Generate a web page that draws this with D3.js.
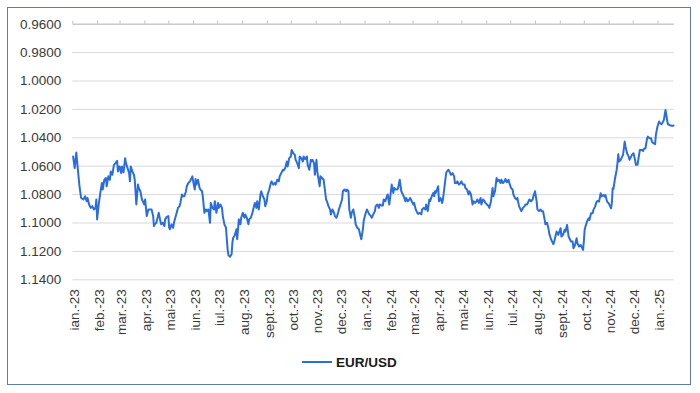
<!DOCTYPE html>
<html>
<head>
<meta charset="utf-8">
<script src="https://cdn.jsdelivr.net/npm/d3@7"></script>
<style>
  html, body { margin: 0; padding: 0; background: #fff; }
  svg { display: block; font-family: "Liberation Sans", Arial, sans-serif; }
</style>
</head>
<body>
<svg id="chart" width="700" height="393"></svg>
<script>
// ---- DATA ----
const seriesName = "EUR/USD";

const yTicks = [0.96, 0.98, 1.00, 1.02, 1.04, 1.06, 1.08, 1.10, 1.12, 1.14];

const monthTicks = ["23-01-01","23-02-01","23-03-01","23-04-01","23-05-01","23-06-01","23-07-01","23-08-01","23-09-01","23-10-01","23-11-01","23-12-01",
  "24-01-01","24-02-01","24-03-01","24-04-01","24-05-01","24-06-01","24-07-01","24-08-01","24-09-01","24-10-01","24-11-01","24-12-01","25-01-01"];
const monthLabels = ["ian.-23","feb.-23","mar.-23","apr.-23","mai-23","iun.-23","iul.-23","aug.-23","sept.-23","oct.-23","nov.-23","dec.-23",
  "ian.-24","feb.-24","mar.-24","apr.-24","mai-24","iun.-24","iul.-24","aug.-24","sept.-24","oct.-24","nov.-24","dec.-24","ian.-25"];

const dates = [
"23-01-02","23-01-04","23-01-06","23-01-08","23-01-10","23-01-12","23-01-15","23-01-17","23-01-19","23-01-20","23-01-22","23-01-24","23-01-26","23-01-28","23-01-30","23-01-31",
"23-02-01","23-02-03","23-02-05","23-02-07","23-02-08","23-02-10","23-02-12","23-02-13","23-02-15","23-02-17","23-02-18","23-02-20","23-02-22","23-02-24","23-02-26","23-02-27",
"23-03-01","23-03-03","23-03-04","23-03-06","23-03-08","23-03-09","23-03-11","23-03-13","23-03-14","23-03-15","23-03-17","23-03-19","23-03-20","23-03-22","23-03-24","23-03-25","23-03-27","23-03-29","23-03-30",
"23-04-01","23-04-02","23-04-04","23-04-06","23-04-08","23-04-10","23-04-12","23-04-13","23-04-14","23-04-16","23-04-17","23-04-19","23-04-21","23-04-22","23-04-24","23-04-26","23-04-27","23-04-29",
"23-05-01","23-05-02","23-05-03","23-05-05","23-05-07","23-05-08","23-05-10","23-05-12","23-05-13","23-05-15","23-05-16","23-05-18","23-05-19","23-05-21","23-05-23","23-05-24","23-05-26","23-05-28","23-05-29","23-05-31",
"23-06-01","23-06-03","23-06-04","23-06-05","23-06-07","23-06-09","23-06-10","23-06-12","23-06-13","23-06-14","23-06-15","23-06-17","23-06-18","23-06-20","23-06-22","23-06-23","23-06-25","23-06-27","23-06-28","23-06-30",
"23-07-02","23-07-03","23-07-05","23-07-07","23-07-08","23-07-10","23-07-12","23-07-13","23-07-14","23-07-15","23-07-17","23-07-19","23-07-20","23-07-21","23-07-23","23-07-25","23-07-26","23-07-28","23-07-30","23-07-31",
"23-08-02","23-08-04","23-08-05","23-08-07","23-08-09","23-08-10","23-08-12","23-08-14","23-08-15","23-08-17","23-08-19","23-08-20","23-08-22","23-08-24","23-08-25","23-08-27","23-08-29","23-08-30",
"23-09-01","23-09-02","23-09-04","23-09-06","23-09-07","23-09-09","23-09-11","23-09-12","23-09-14","23-09-16","23-09-17","23-09-19","23-09-21","23-09-22","23-09-24","23-09-26","23-09-27","23-09-29",
"23-10-01","23-10-02","23-10-04","23-10-06","23-10-07","23-10-09","23-10-11","23-10-12","23-10-14","23-10-16","23-10-17","23-10-19","23-10-21","23-10-22","23-10-24","23-10-26","23-10-27","23-10-28","23-10-30","23-10-31",
"23-11-01","23-11-02","23-11-03","23-11-04","23-11-06","23-11-07","23-11-09","23-11-11","23-11-12","23-11-14","23-11-15","23-11-17","23-11-19","23-11-20","23-11-22","23-11-24","23-11-25","23-11-27","23-11-29","23-11-30",
"23-12-02","23-12-04","23-12-05","23-12-07","23-12-09","23-12-10","23-12-12","23-12-13","23-12-15","23-12-16","23-12-18","23-12-20","23-12-21","23-12-23","23-12-25","23-12-26","23-12-28","23-12-30","23-12-31",
"24-01-02","24-01-04","24-01-05","24-01-07","24-01-09","24-01-10","24-01-12","24-01-14","24-01-15","24-01-17","24-01-19","24-01-20","24-01-22","24-01-24","24-01-25","24-01-27","24-01-29","24-01-30",
"24-02-01","24-02-03","24-02-04","24-02-06","24-02-07","24-02-09","24-02-11","24-02-12","24-02-14","24-02-16","24-02-17","24-02-19","24-02-21","24-02-22","24-02-24","24-02-26","24-02-27","24-02-29",
"24-03-02","24-03-03","24-03-05","24-03-07","24-03-08","24-03-10","24-03-12","24-03-13","24-03-15","24-03-17","24-03-18","24-03-20","24-03-22","24-03-23","24-03-25","24-03-27","24-03-28","24-03-29","24-03-30",
"24-04-02","24-04-03","24-04-05","24-04-07","24-04-08","24-04-10","24-04-12","24-04-13","24-04-15","24-04-17","24-04-18","24-04-20","24-04-22","24-04-23","24-04-25","24-04-26","24-04-28","24-04-30",
"24-05-01","24-05-03","24-05-05","24-05-06","24-05-08","24-05-10","24-05-11","24-05-13","24-05-15","24-05-16","24-05-18","24-05-20","24-05-21","24-05-23","24-05-25","24-05-26","24-05-28","24-05-30","24-05-31",
"24-06-02","24-06-04","24-06-05","24-06-07","24-06-09","24-06-10","24-06-12","24-06-14","24-06-15","24-06-17","24-06-19","24-06-20","24-06-22","24-06-24","24-06-25","24-06-27","24-06-29","24-06-30",
"24-07-02","24-07-04","24-07-05","24-07-07","24-07-09","24-07-10","24-07-12","24-07-14","24-07-15","24-07-17","24-07-19","24-07-20","24-07-22","24-07-24","24-07-25","24-07-27","24-07-29","24-07-30",
"24-08-01","24-08-03","24-08-04","24-08-06","24-08-08","24-08-09","24-08-11","24-08-13","24-08-14","24-08-16","24-08-18","24-08-19","24-08-21","24-08-23","24-08-24","24-08-25","24-08-27","24-08-28","24-08-30",
"24-09-02","24-09-03","24-09-05","24-09-07","24-09-08","24-09-10","24-09-12","24-09-13","24-09-15","24-09-17","24-09-18","24-09-20","24-09-22","24-09-23","24-09-25","24-09-27","24-09-28","24-09-30",
"24-10-01","24-10-02","24-10-03","24-10-05","24-10-07","24-10-08","24-10-10","24-10-12","24-10-13","24-10-15","24-10-17","24-10-18","24-10-20","24-10-22","24-10-23","24-10-25","24-10-27","24-10-28","24-10-30",
"24-11-01","24-11-02","24-11-04","24-11-05","24-11-06","24-11-07","24-11-09","24-11-11","24-11-12","24-11-13","24-11-14","24-11-16","24-11-17","24-11-19","24-11-21","24-11-22","24-11-24","24-11-26","24-11-27","24-11-29","24-11-30",
"24-12-02","24-12-04","24-12-05","24-12-07","24-12-09","24-12-10","24-12-12","24-12-14","24-12-15","24-12-17","24-12-19","24-12-20","24-12-22","24-12-24","24-12-25","24-12-27","24-12-29","24-12-30",
"25-01-01","25-01-03","25-01-04","25-01-06","25-01-08","25-01-09","25-01-11","25-01-13","25-01-14","25-01-16","25-01-18","25-01-19","25-01-21"
];

const rates = [
1.0535,1.0617,1.0507,1.0629,1.0745,1.0827,1.0838,1.0815,1.0850,1.0827,1.0873,1.0897,1.0885,1.0908,1.0897,1.0838,
1.0978,1.0873,1.0792,1.0722,1.0768,1.0699,1.0687,1.0745,1.0675,1.0699,1.0640,1.0664,1.0594,1.0582,1.0566,1.0640,
1.0605,1.0652,1.0605,1.0647,1.0547,1.0582,1.0617,1.0652,1.0710,1.0605,1.0640,1.0664,1.0699,1.0873,1.0733,1.0757,1.0780,1.0838,1.0850,
1.0873,1.0838,1.0955,1.0908,1.0908,1.0908,1.0955,1.1025,1.1013,1.1002,1.0978,1.0932,1.0990,1.1013,1.1002,1.1025,1.0978,1.0960,
1.0955,1.1037,1.1048,1.1013,1.1037,1.1002,1.0960,1.0920,1.0897,1.0885,1.0862,1.0803,1.0815,1.0815,1.0780,1.0745,1.0722,1.0710,1.0699,1.0675,
1.0710,1.0768,1.0694,1.0733,1.0699,1.0757,1.0768,1.0780,1.0815,1.0873,1.0932,1.0908,1.0920,1.0908,1.1002,1.0862,1.0897,1.0908,1.0850,1.0932,
1.0862,1.0897,1.0873,1.0897,1.0955,1.1013,1.1037,1.1118,1.1188,1.1230,1.1242,1.1223,1.1142,1.1107,1.1090,1.1048,1.1118,1.0978,1.1013,1.0967,
1.0932,1.0967,1.0943,1.0967,1.1013,1.0978,1.0967,1.0932,1.0908,1.0862,1.0897,1.0850,1.0908,1.0803,1.0780,1.0815,1.0838,1.0885,
1.0850,1.0803,1.0768,1.0722,1.0710,1.0733,1.0722,1.0733,1.0699,1.0710,1.0675,1.0652,1.0629,1.0633,1.0617,1.0570,1.0605,1.0547,
1.0535,1.0489,1.0512,1.0524,1.0559,1.0582,1.0617,1.0535,1.0547,1.0570,1.0535,1.0554,1.0535,1.0594,1.0629,1.0559,1.0570,1.0559,1.0582,1.0664,
1.0617,1.0559,1.0640,1.0675,1.0745,1.0675,1.0687,1.0699,1.0745,1.0838,1.0850,1.0885,1.0908,1.0943,1.0908,1.0932,1.0955,1.0967,1.0932,1.0908,
1.0873,1.0838,1.0780,1.0768,1.0780,1.0768,1.0780,1.0908,1.0967,1.0932,1.0908,1.0967,1.1013,1.1037,1.1048,1.1072,1.1118,1.1048,1.0988,
1.0943,1.0908,1.0920,1.0943,1.0955,1.0967,1.0943,1.0920,1.0885,1.0873,1.0897,1.0873,1.0880,1.0880,1.0838,1.0850,1.0815,1.0803,
1.0873,1.0780,1.0733,1.0792,1.0757,1.0768,1.0768,1.0757,1.0699,1.0780,1.0792,1.0815,1.0850,1.0827,1.0850,1.0838,1.0827,1.0850,
1.0873,1.0862,1.0908,1.0932,1.0939,1.0932,1.0943,1.0908,1.0897,1.0908,1.0873,1.0920,1.0838,1.0850,1.0815,1.0792,1.0815,1.0780,1.0792,
1.0745,1.0850,1.0827,1.0862,1.0838,1.0745,1.0652,1.0640,1.0629,1.0652,1.0664,1.0652,1.0675,1.0722,1.0722,1.0710,1.0733,1.0722,
1.0710,1.0733,1.0733,1.0757,1.0768,1.0803,1.0780,1.0803,1.0873,1.0850,1.0862,1.0850,1.0838,1.0862,1.0827,1.0873,1.0838,1.0850,1.0862,
1.0873,1.0885,1.0897,1.0850,1.0757,1.0815,1.0780,1.0687,1.0710,1.0699,1.0722,1.0699,1.0722,1.0710,1.0694,1.0717,1.0699,1.0722,
1.0757,1.0768,1.0803,1.0827,1.0838,1.0827,1.0885,1.0908,1.0920,1.0897,1.0885,1.0873,1.0873,1.0850,1.0838,1.0850,1.0838,1.0815,
1.0780,1.0850,1.0908,1.0920,1.0908,1.0920,1.0920,1.0978,1.1013,1.1002,1.1048,1.1083,1.1118,1.1142,1.1153,1.1134,1.1087,1.1064,1.1087,
1.1040,1.1099,1.1087,1.1052,1.1064,1.1017,1.1099,1.1111,1.1134,1.1134,1.1181,1.1158,1.1111,1.1146,1.1169,1.1158,1.1169,1.1193,
1.1134,1.1052,1.1029,1.0993,1.0970,1.0982,1.0935,1.0935,1.0911,1.0888,1.0853,1.0848,1.0853,1.0794,1.0817,1.0806,1.0817,1.0806,1.0853,
1.0864,1.0876,1.0900,1.0864,1.0759,1.0763,1.0688,1.0630,1.0583,1.0519,1.0571,1.0559,1.0547,1.0524,1.0430,1.0465,1.0512,1.0536,1.0559,1.0536,1.0524,
1.0512,1.0559,1.0594,1.0594,1.0524,1.0489,1.0489,1.0496,1.0482,1.0477,1.0407,1.0395,1.0407,1.0407,1.0430,1.0442,1.0449,1.0383,
1.0324,1.0289,1.0301,1.0308,1.0289,1.0277,1.0207,1.0277,1.0308,1.0313,1.0317,1.0320,1.0317
];

// ---- CHART ----
const parseDate = d3.timeParse("%y-%m-%d");
const seriesData = dates.map((d, i) => ({ date: parseDate(d), value: rates[i] }));

const W = 700, H = 393;
const plotLeft = 72.3, plotRight = 673.5, plotTop = 23.7, plotBottom = 279.3;

const svg = d3.select("#chart");
svg.append("rect").attr("x", 0).attr("y", 0).attr("width", W).attr("height", H).attr("fill", "#fff");

const xScale = d3.scaleTime()
  .domain([parseDate("23-01-01"), parseDate("25-01-21")])
  .range([plotLeft, plotRight]);
const yScale = d3.scaleLinear()
  .domain([yTicks[0], yTicks[yTicks.length - 1]])
  .range([plotTop, plotBottom]);

// gridlines + y labels
const yAxisG = svg.append("g")
  .attr("transform", `translate(${plotLeft},0)`)
  .call(d3.axisLeft(yScale).tickValues(yTicks).tickFormat(d3.format(".4f"))
    .tickSizeInner(-(plotRight - plotLeft)).tickSizeOuter(0).tickPadding(11));
yAxisG.select(".domain").remove();
yAxisG.selectAll(".tick line").attr("stroke", "#d9d9d9").attr("stroke-width", 1);
yAxisG.selectAll(".tick text")
  .attr("fill", "#3a3a3a")
  .style("font-size", "13.5px")
  .style("font-family", "'Liberation Sans', Arial, sans-serif");

// top axis line with small month ticks (value axis crosses at 0.96)
const monthDates = monthTicks.map(parseDate);
const topAxisG = svg.append("g")
  .attr("transform", `translate(0,${plotTop})`)
  .call(d3.axisTop(xScale).tickValues(monthDates).tickFormat("").tickSizeInner(3).tickSizeOuter(0));
topAxisG.select(".domain").attr("stroke", "#bfbfbf");
topAxisG.selectAll(".tick line").attr("stroke", "#bfbfbf");

// bottom month labels
const xAxisG = svg.append("g")
  .attr("transform", `translate(0,${plotBottom})`)
  .call(d3.axisBottom(xScale).tickValues(monthDates)
    .tickFormat((d, i) => monthLabels[i]).tickSize(0));
xAxisG.select(".domain").remove();
xAxisG.selectAll(".tick text")
  .attr("transform", "rotate(-90)")
  .attr("x", -10)
  .attr("y", 0)
  .attr("dy", "0.46em")
  .style("text-anchor", "end")
  .attr("fill", "#3a3a3a")
  .style("font-size", "13.5px")
  .style("font-family", "'Liberation Sans', Arial, sans-serif");

// line
const lineGen = d3.line().x(d => xScale(d.date)).y(d => yScale(d.value));
svg.append("path")
  .datum(seriesData)
  .attr("d", lineGen)
  .attr("fill", "none")
  .attr("stroke", "#2b6de0")
  .attr("stroke-width", 2)
  .attr("stroke-linejoin", "round")
  .attr("stroke-linecap", "round");

// legend
const lg = svg.append("g").attr("transform", "translate(302,362)");
lg.append("line").attr("x1", 0).attr("x2", 30).attr("y1", 0).attr("y2", 0)
  .attr("stroke", "#2b6de0").attr("stroke-width", 2);
lg.append("text").attr("x", 34).attr("y", 0).attr("dy", "0.35em")
  .style("font-size", "13.5px").style("font-weight", "bold")
  .attr("fill", "#1a1a1a")
  .text(seriesName);

// outer border
svg.append("rect")
  .attr("x", 7.5).attr("y", 7.5).attr("width", 683).attr("height", 377)
  .attr("fill", "none").attr("stroke", "#5a7db3").attr("stroke-width", 1);
</script>
</body>
</html>
